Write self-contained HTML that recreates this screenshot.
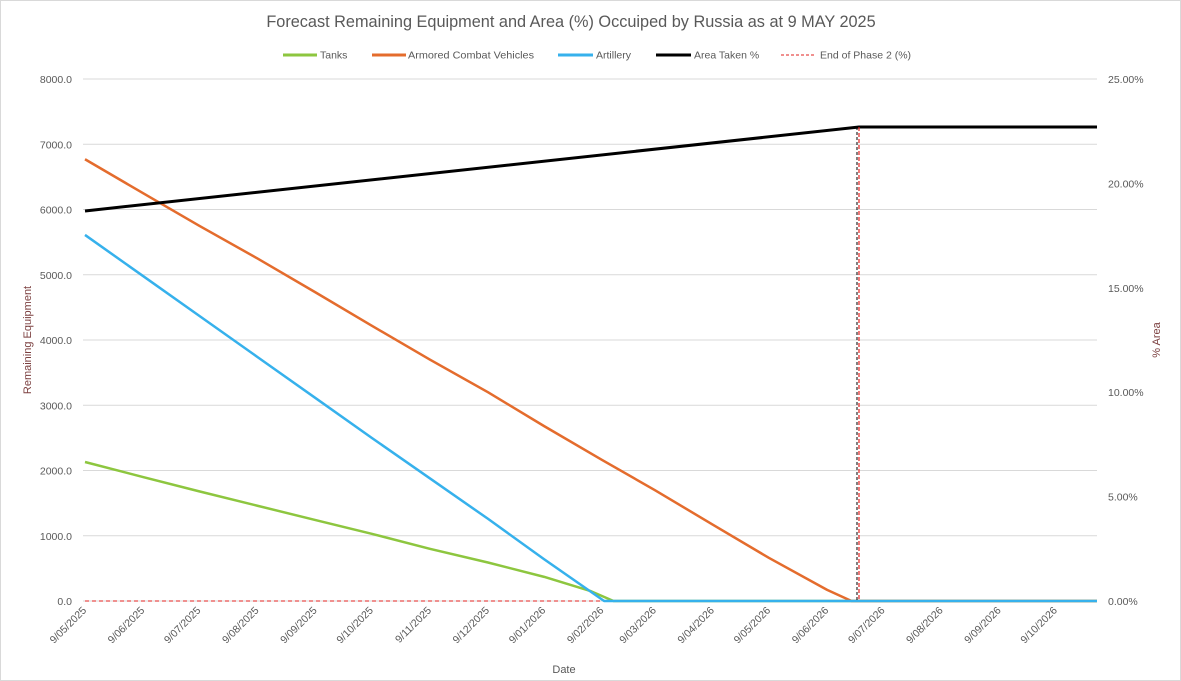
<!DOCTYPE html>
<html><head><meta charset="utf-8"><style>
body{margin:0;background:#fff;}
svg{display:block;font-family:"Liberation Sans",sans-serif;}
</style></head><body>
<svg id="chart" width="1181" height="681" viewBox="0 0 1181 681" xmlns="http://www.w3.org/2000/svg">
<rect x="0.5" y="0.5" width="1180" height="680" fill="#fff" stroke="#d9d9d9"/>
<text x="571" y="27" text-anchor="middle" font-size="16.3" fill="#595959">Forecast Remaining Equipment and Area (%) Occuiped by Russia as at 9 MAY 2025</text>
<g id="legend" font-size="10.5" fill="#595959">
<g><line x1="283" y1="55" x2="317" y2="55" stroke="#8dc63f" stroke-width="3"/><text x="320" y="58.5">Tanks</text></g>
<g><line x1="372" y1="55" x2="406" y2="55" stroke="#e46c2d" stroke-width="3"/><text x="408" y="58.5" textLength="126" lengthAdjust="spacingAndGlyphs">Armored Combat Vehicles</text></g>
<g><line x1="558" y1="55" x2="593" y2="55" stroke="#36b1ec" stroke-width="3"/><text x="596" y="58.5">Artillery</text></g>
<g><line x1="656" y1="55" x2="691" y2="55" stroke="#000" stroke-width="3"/><text x="694" y="58.5">Area Taken %</text></g>
<g><line x1="781" y1="55" x2="814" y2="55" stroke="#e0201f" stroke-width="1" stroke-dasharray="3,2"/><text x="820" y="58.5">End of Phase 2 (%)</text></g>
</g>
<g id="grid"></g>
<g id="yl" font-size="10.5" fill="#595959" text-anchor="end"></g>
<g id="yr" font-size="10.5" fill="#595959"></g>
<g id="xl" font-size="10.5" fill="#595959" text-anchor="end"></g>
<g id="series"></g>
<text x="564" y="673" text-anchor="middle" font-size="11" fill="#595959">Date</text>
<text transform="translate(31,340) rotate(-90)" text-anchor="middle" font-size="11" fill="#7b3f3f">Remaining Equipment</text>
<text transform="translate(1160,340) rotate(-90)" text-anchor="middle" font-size="11" fill="#7b3f3f">% Area</text>
</svg>
<script>
const xTickLabels=["9/05/2025","9/06/2025","9/07/2025","9/08/2025","9/09/2025","9/10/2025","9/11/2025","9/12/2025","9/01/2026","9/02/2026","9/03/2026","9/04/2026","9/05/2026","9/06/2026","9/07/2026","9/08/2026","9/09/2026","9/10/2026"];
const xTickDays=[0,31,61,92,123,153,184,215,245,276,304,335,365,396,426,457,488,518];
const leftTicks=[0,1000,2000,3000,4000,5000,6000,7000,8000];
const rightTicks=[0,5,10,15,20,25];
const tankDays=[0,31,61,92,123,153,184,215,245,270,282,540];
const tankVals=[2130,1900,1680,1460,1240,1030,800,590,370,150,0,0];
const artDays=[0,31,61,92,123,153,184,215,245,277,540];
const artVals=[5610,4980,4370,3740,3110,2500,1880,1260,640,0,0];
const acvDays=[0,31,61,92,123,153,184,215,245,276,304,335,365,396,409,540];
const acvVals=[6770,6250,5750,5250,4730,4220,3700,3200,2680,2160,1700,1170,660,170,0,0];
const areaDays=[0,413,540];
const areaVals=[18.68,22.7,22.7];
const phase2Day=413;
const NS="http://www.w3.org/2000/svg";
const X0=85,X1=1097,Y0=601,Y1=79,DMAX=540;
const xs=d=>X0+(d/DMAX)*(X1-X0);
const yl=v=>Y0-(v/8000)*(Y0-Y1);
const yr=v=>Y0-(v/25)*(Y0-Y1);
function mk(tag,attrs,parent){const e=document.createElementNS(NS,tag);for(const k in attrs)e.setAttribute(k,attrs[k]);parent.appendChild(e);return e;}
const grid=document.getElementById('grid');
leftTicks.forEach(v=>{
  const l=mk('line',{x1:X0-2,x2:X1,y1:yl(v),y2:yl(v),stroke:'#d9d9d9','stroke-width':1},grid);
  
  
  const t=mk('text',{x:72,y:yl(v)+4},document.getElementById('yl'));
  t.textContent=v.toFixed(1);
  
  
});
rightTicks.forEach(v=>{
  const t=mk('text',{x:1108,y:yr(v)+4},document.getElementById('yr'));
  t.textContent=v.toFixed(2)+'%';
  
  
});
xTickLabels.forEach((s,i)=>{
  const x=xs(xTickDays[i]);
  const t=mk('text',{transform:`translate(${x+2},${Y0+10}) rotate(-45)`},document.getElementById('xl'));
  t.textContent=s;
  
  
});
const ser=document.getElementById('series');
function poly(days,vals,sc,color,w,name){
  const p=mk('polyline',{points:days.map((d,i)=>xs(d)+','+sc(vals[i])).join(' '),fill:'none',stroke:color,'stroke-width':w,'stroke-linejoin':'round'},ser);
  
  
}
const zl=mk('line',{x1:X0,x2:X1,y1:Y0,y2:Y0,stroke:'#e0201f','stroke-width':1,'stroke-dasharray':'4,3'},ser);


poly(tankDays,tankVals,yl,'#8dc63f',2.5,'tanks-line');
poly(acvDays,acvVals,yl,'#e46c2d',2.5,'acv-line');
poly(artDays,artVals,yl,'#36b1ec',2.5,'artillery-line');
poly(areaDays,areaVals,yr,'#000',3,'area-taken-line');
const vx=xs(phase2Day);
const vb=mk('line',{x1:vx-2,x2:vx-2,y1:yr(areaVals[1]),y2:Y0,stroke:'#000','stroke-width':1,'stroke-dasharray':'3,2'},ser);


const vr=mk('line',{x1:vx,x2:vx,y1:yr(areaVals[1]),y2:Y0,stroke:'#e0201f','stroke-width':1.2,'stroke-dasharray':'4,2'},ser);


</script>
</body></html>
